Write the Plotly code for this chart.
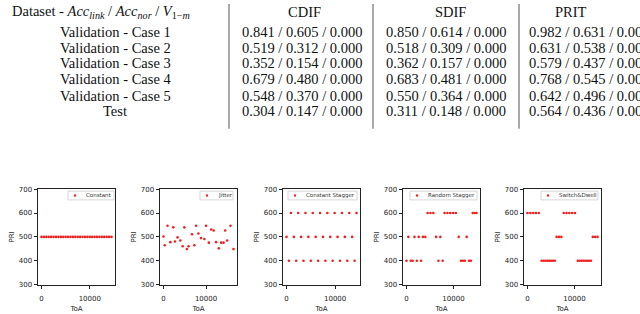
import plotly.graph_objects as go

W, H = 640, 314

# ---------------- table data ----------------
table_header = "Dataset - <i>Acc</i><sub><i>link</i></sub> / <i>Acc</i><sub><i>nor</i></sub> / <i>V</i><sub>1−<i>m</i></sub>"
table_columns = ["CDIF", "SDIF", "PRIT"]
table_rows = ["Validation - Case 1", "Validation - Case 2", "Validation - Case 3",
              "Validation - Case 4", "Validation - Case 5", "Test"]
cdif_acc_link = [0.841, 0.519, 0.352, 0.679, 0.548, 0.304]
cdif_acc_nor = [0.605, 0.312, 0.154, 0.480, 0.370, 0.147]
cdif_v = [0.000, 0.000, 0.000, 0.000, 0.000, 0.000]
sdif_acc_link = [0.850, 0.518, 0.362, 0.683, 0.550, 0.311]
sdif_acc_nor = [0.614, 0.309, 0.157, 0.481, 0.364, 0.148]
sdif_v = [0.000, 0.000, 0.000, 0.000, 0.000, 0.000]
prit_acc_link = [0.982, 0.631, 0.579, 0.768, 0.642, 0.564]
prit_acc_nor = [0.631, 0.538, 0.437, 0.545, 0.496, 0.436]
prit_v = [0.000, 0.000, 0.000, 0.000, 0.000, 0.000]

# ---------------- scatter data ----------------
constant_toa = [0, 500, 1000, 1500, 2000, 2500, 3000, 3500, 4000, 4500, 5000, 5500, 6000, 6500, 7000,
                7500, 8000, 8500, 9000, 9500, 10000, 10500, 11000, 11500, 12000, 12500, 13000, 13500,
                14000, 14500]
constant_pri = [500, 500, 500, 500, 500, 500, 500, 500, 500, 500, 500, 500, 500, 500, 500,
                500, 500, 500, 500, 500, 500, 500, 500, 500, 500, 500, 500, 500, 500, 500]

jitter_toa = [0, 300, 950, 1600, 2300, 2700, 3300, 3950, 4500, 4900, 5500, 5900, 6700, 7250, 7650,
              8200, 8800, 9600, 10000, 10650, 11200, 11800, 12350, 13000, 13550, 14100, 14500, 14950,
              15750, 16450]
jitter_pri = [502, 465, 547, 478, 540, 481, 498, 485, 461, 540, 449, 461, 511, 465, 547,
              514, 495, 491, 547, 476, 531, 527, 478, 452, 476, 476, 527, 485, 547, 449]

cstagger_toa = [0, 500, 900, 1500, 2000, 2400, 3000, 3500, 3900, 4500, 5000, 5400, 6000, 6500, 6900,
                7500, 8000, 8400, 9000, 9500, 9900, 10500, 11000, 11400, 12000, 12500, 12900, 13500,
                14000, 14400]
cstagger_pri = [500, 400, 600, 500, 400, 600, 500, 400, 600, 500, 400, 600, 500, 400, 600,
                500, 400, 600, 500, 400, 600, 500, 400, 600, 500, 400, 600, 500, 400, 600]

rstagger_toa = [0, 400, 900, 1300, 1700, 2200, 2600, 3100, 3500, 4000, 4500, 5100, 5700, 6300, 6800,
                7200, 7700, 8100, 8700, 9300, 9900, 10500, 11100, 11600, 12000, 12400, 12800, 13300,
                13700, 14100, 14500, 14900]
rstagger_pri = [400, 500, 400, 400, 500, 400, 500, 400, 500, 500, 600, 600, 600, 500, 400,
                500, 400, 600, 600, 600, 600, 600, 500, 400, 400, 400, 500, 400, 400, 600, 600, 600]

sdwell_toa = [0, 600, 1200, 1800, 2400, 3000, 3400, 3800, 4200, 4600, 5000, 5400, 5800, 6200, 6700,
              7200, 7700, 8300, 8900, 9500, 10100, 10700, 11100, 11500, 11900, 12300, 12700, 13100,
              13500, 13900, 14400, 14900]
sdwell_pri = [600, 600, 600, 600, 600, 400, 400, 400, 400, 400, 400, 400, 400, 500, 500,
              500, 600, 600, 600, 600, 600, 400, 400, 400, 400, 400, 400, 400, 400, 500, 500, 500]

series_names = ["Constant", "Jitter", "Constant Stagger", "Random Stagger", "Switch&Dwell"]
series_x = [constant_toa, jitter_toa, cstagger_toa, rstagger_toa, sdwell_toa]
series_y = [constant_pri, jitter_pri, cstagger_pri, rstagger_pri, sdwell_pri]
pri_ticks = [300, 400, 500, 600, 700]
toa_ticks = [0, 10000]

# ---------------- layout helpers ----------------
def px(x):
    return x / W

def py(y):
    return 1 - y / H

panel_left = [38, 160, 283, 403, 524]
panel_width = 77
panel_top, panel_bottom = 190, 288
legend_boxes = [(68, 114), (200, 233), (288, 357), (410, 477), (541, 598)]
RED = "#ee2222"
AX = "#222222"
SANS = "DejaVu Sans"
SERIF = "Liberation Serif"

fig = go.Figure()
layout = dict(
    width=W, height=H, margin=dict(l=0, r=0, t=0, b=0),
    paper_bgcolor="white", plot_bgcolor="white", showlegend=False,
)
shapes = []
annotations = []

for i in range(5):
    n = "" if i == 0 else str(i + 1)
    xs = series_x[i]
    span = max(xs) - min(xs)
    fig.add_trace(go.Scatter(
        x=xs, y=series_y[i], mode="markers", name=series_names[i],
        marker=dict(color=RED, size=2.6, line=dict(width=0)),
        xaxis="x" + n, yaxis="y" + n, hoverinfo="skip",
    ))
    axcommon = dict(
        showline=True, mirror=True, linecolor=AX, linewidth=1,
        ticks="outside", ticklen=3.5, tickwidth=1, tickcolor=AX,
        showgrid=False, zeroline=False,
        tickfont=dict(family=SANS, size=7, color=AX),
    )
    layout["xaxis" + n] = dict(
        domain=[px(panel_left[i]), px(panel_left[i] + panel_width)],
        anchor="y" + n,
        range=[min(xs) - 0.05 * span, max(xs) + 0.05 * span],
        tickmode="array", tickvals=toa_ticks, ticktext=[str(t) for t in toa_ticks],
        ticklabelstandoff=3,
        title=dict(text="ToA", font=dict(family=SANS, size=7, color=AX), standoff=4),
        **axcommon,
    )
    layout["yaxis" + n] = dict(
        domain=[py(panel_bottom), py(panel_top)],
        anchor="x" + n,
        range=[pri_ticks[0], pri_ticks[-1]],
        tickmode="array", tickvals=pri_ticks, ticktext=[str(t) for t in pri_ticks],
        title=dict(text="PRI", font=dict(family=SANS, size=7, color=AX), standoff=3),
        **axcommon,
    )
    # legend box
    bl, br = legend_boxes[i]
    shapes.append(dict(type="rect", xref="paper", yref="paper",
                       x0=px(bl), x1=px(br), y0=py(201), y1=py(192),
                       line=dict(color="#cccccc", width=0.8), fillcolor="white", layer="above"))
    shapes.append(dict(type="circle", xref="paper", yref="paper",
                       x0=px(bl + 7 - 1.2), x1=px(bl + 7 + 1.2), y0=py(196.5 + 1.2), y1=py(196.5 - 1.2),
                       line=dict(width=0), fillcolor=RED, layer="above"))
    annotations.append(dict(text=series_names[i], xref="paper", yref="paper",
                            x=px(bl + 16), y=py(196.5), xanchor="left", yanchor="middle",
                            showarrow=False, font=dict(family=SANS, size=5.5, color="#333333")))

# ---------------- table ----------------
row_y = [29, 45, 61, 77, 94, 110]
header_y = 8
col_centers_header = [304, 450, 571]
TFONT = dict(family=SERIF, size=14.5, color="#111111")

annotations.append(dict(text=table_header, xref="paper", yref="paper", x=px(10),
                        y=py(header_y), xanchor="left", yanchor="middle", showarrow=False, font=TFONT))
for j, c in enumerate(table_columns):
    annotations.append(dict(text=c, xref="paper", yref="paper", x=px(col_centers_header[j]),
                            y=py(header_y), xanchor="center", yanchor="middle", showarrow=False, font=TFONT))

cols = [(cdif_acc_link, cdif_acc_nor, cdif_v, 301.5, "center"),
        (sdif_acc_link, sdif_acc_nor, sdif_v, 446, "center"),
        (prit_acc_link, prit_acc_nor, prit_v, 527, "left")]
for r, name in enumerate(table_rows):
    annotations.append(dict(text=name, xref="paper", yref="paper", x=px(115), y=py(row_y[r]),
                            xanchor="center", yanchor="middle", showarrow=False, font=TFONT))
    for a, b, v, xc, anc in cols:
        annotations.append(dict(text=f"{a[r]:.3f} / {b[r]:.3f} / {v[r]:.3f}", xref="paper", yref="paper",
                                x=px(xc), y=py(row_y[r]), xanchor=anc, yanchor="middle",
                                showarrow=False, font=TFONT))

for xv in [229, 373, 519]:
    shapes.append(dict(type="line", xref="paper", yref="paper", x0=px(xv), x1=px(xv),
                       y0=py(0), y1=py(128), line=dict(color="#555555", width=1)))

layout["shapes"] = shapes
layout["annotations"] = annotations
layout["hovermode"] = False
fig.update_layout(**layout)
fig.write_html("out.html", config={"displayModeBar": False, "staticPlot": True},
               post_script="document.body.style.margin='0';document.body.style.overflow='hidden';")
